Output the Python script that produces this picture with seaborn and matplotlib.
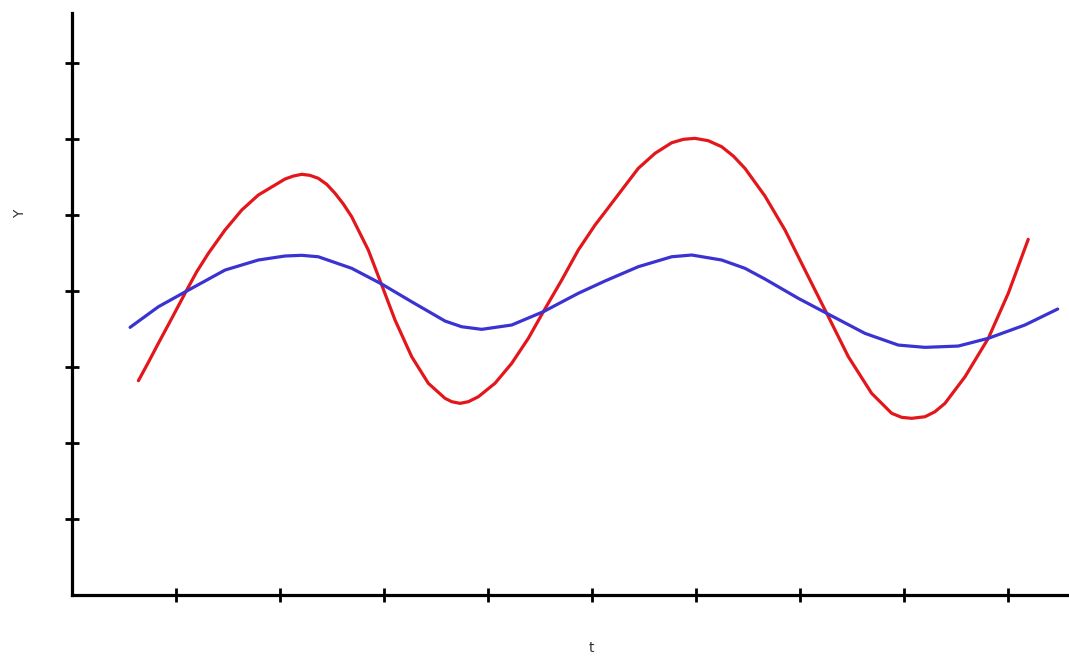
import numpy as np
import pandas as pd
import matplotlib
matplotlib.use("Agg")
import matplotlib.pyplot as plt
import seaborn as sns

# values (tick spacing = 1 unit on both axes)
red_t = [0.638, 0.734, 0.830, 0.959, 1.103, 1.199, 1.311, 1.471, 1.632, 1.791,
         2.048, 2.128, 2.209, 2.288, 2.368, 2.449, 2.529, 2.609, 2.689, 2.849,
         2.978, 3.106, 3.266, 3.426, 3.587, 3.651, 3.731, 3.811, 3.907, 4.067,
         4.228, 4.388, 4.532, 4.709, 4.868, 5.029, 5.125, 5.286, 5.445, 5.606,
         5.766, 5.878, 5.990, 6.118, 6.247, 6.359, 6.471, 6.663, 6.856, 7.048,
         7.257, 7.465, 7.689, 7.882, 7.978, 8.074, 8.202, 8.298, 8.394, 8.587,
         8.811, 9.003, 9.195]
red_y = [2.820, 3.062, 3.312, 3.641, 4.013, 4.254, 4.496, 4.803, 5.066, 5.263,
         5.474, 5.513, 5.536, 5.522, 5.483, 5.404, 5.286, 5.145, 4.978, 4.539,
         4.079, 3.618, 3.136, 2.786, 2.588, 2.544, 2.522, 2.544, 2.609, 2.786,
         3.049, 3.378, 3.728, 4.145, 4.539, 4.868, 5.039, 5.329, 5.614, 5.812,
         5.951, 5.996, 6.009, 5.978, 5.899, 5.776, 5.614, 5.250, 4.803, 4.276,
         3.707, 3.136, 2.654, 2.391, 2.338, 2.325, 2.346, 2.412, 2.522, 2.872,
         3.378, 3.970, 4.680]

blue_t = [0.558, 0.830, 1.103, 1.471, 1.791, 2.048, 2.209, 2.368, 2.689, 2.978,
          3.266, 3.587, 3.747, 3.939, 4.228, 4.532, 4.868, 5.125, 5.445, 5.766,
          5.959, 6.247, 6.471, 6.663, 6.984, 7.257, 7.625, 7.945, 8.202, 8.522,
          8.811, 9.163, 9.478]
blue_y = [3.522, 3.793, 4.000, 4.276, 4.408, 4.461, 4.470, 4.451, 4.299, 4.092,
          3.859, 3.605, 3.530, 3.496, 3.553, 3.728, 3.970, 4.132, 4.320, 4.451,
          4.474, 4.408, 4.299, 4.158, 3.904, 3.707, 3.443, 3.289, 3.259, 3.276,
          3.378, 3.553, 3.763]

x_ticks = [1, 2, 3, 4, 5, 6, 7, 8, 9]
y_ticks = [1, 2, 3, 4, 5, 6, 7]

df = pd.concat([
    pd.DataFrame({"t": red_t, "Y": red_y, "series": "red"}),
    pd.DataFrame({"t": blue_t, "Y": blue_y, "series": "blue"}),
], ignore_index=True)

sns.set_theme(style="white")

fig = plt.figure(figsize=(10.69, 6.58), dpi=100)
ax = fig.add_axes([0.0674, 0.0957, 0.9326, 0.8845])

sns.lineplot(data=df, x="t", y="Y", hue="series", sort=False, estimator=None,
             palette={"red": "#e3171b", "blue": "#3a33d2"}, linewidth=2.3,
             legend=False, ax=ax)
for line in ax.get_lines():
    line.set_solid_joinstyle("round")
    line.set_solid_capstyle("round")

ax.set_xlim(0, 9.587)
ax.set_ylim(0, 7.658)
ax.set_xticks(x_ticks)
ax.set_yticks(y_ticks)
ax.set_xticklabels([])
ax.set_yticklabels([])

for side in ["top", "right"]:
    ax.spines[side].set_visible(False)
for side in ["left", "bottom"]:
    ax.spines[side].set_color("black")
    ax.spines[side].set_linewidth(2.3)

ax.tick_params(axis="both", direction="inout", length=10, width=2, color="black",
               left=True, bottom=True)

ax.set_xlabel("t", fontsize=10, color="#333333")
ax.set_ylabel("Y", fontsize=10, color="#333333")
ax.xaxis.set_label_coords(0.5206, -0.079)
ax.yaxis.set_label_coords(-0.045, 0.6546)

fig.savefig("out.png", dpi=100)
